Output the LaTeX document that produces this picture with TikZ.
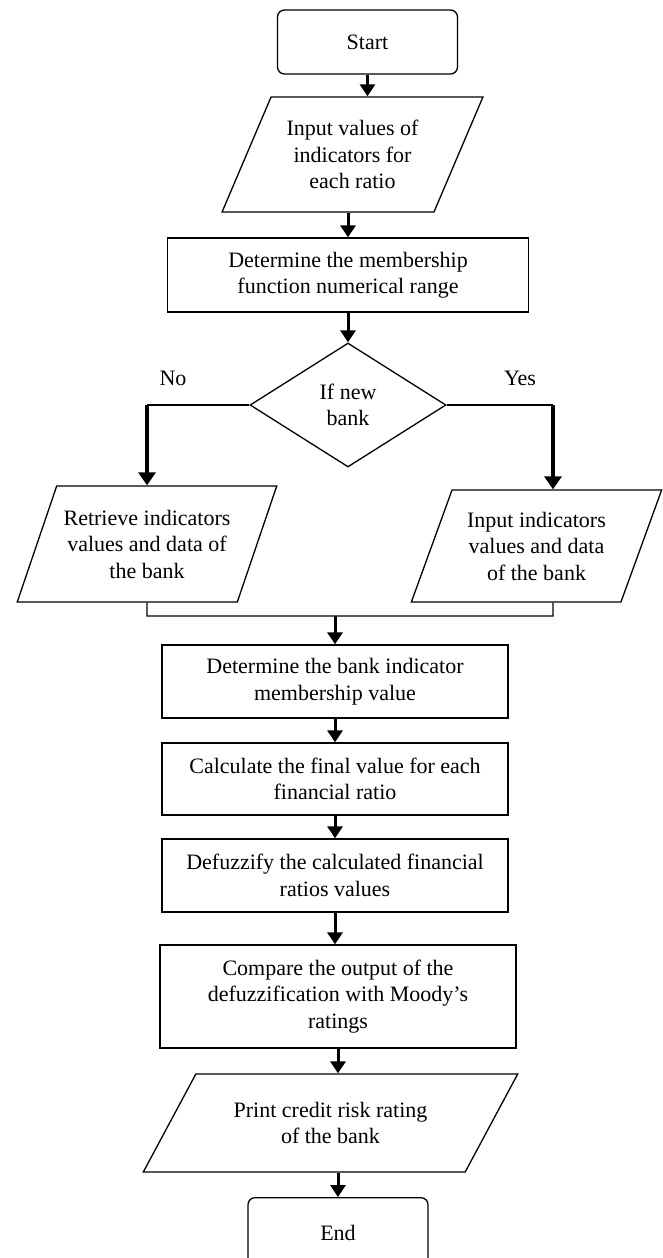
\documentclass[tikz,border=0pt]{standalone}
\usepackage{fontspec}
\setmainfont{Liberation Serif}
\usetikzlibrary{shapes.geometric,arrows.meta}
\begin{document}
\begin{tikzpicture}[x=1pt,y=-1pt,
  every node/.style={font=\fontsize{22}{26.5}\selectfont,align=center,line width=1.3pt},
  procbox/.style={draw,rectangle,inner sep=0pt},
  termbox/.style={draw,rectangle,rounded corners=7pt,minimum width=180pt,minimum height=64pt},
  iobox/.style={draw,trapezium,trapezium stretches=true,inner sep=0pt},
  decbox/.style={draw,diamond,inner sep=0pt,minimum width=196pt,minimum height=124pt},
  arr/.style={line width=3pt,-{Triangle[length=12pt,width=15pt]}},
  bigarr/.style={line width=4pt,-{Triangle[length=13pt,width=17pt]}},
  thinline/.style={line width=1.4pt}]
  \useasboundingbox (0,0) rectangle (662,1258);
  \node[termbox] (start) at (367.5,42) {Start};
  \node[iobox,trapezium left angle=60,trapezium right angle=120,minimum width=261pt,minimum height=115pt]
   (inval) at (352.5,154.5) {Input values of\\indicators for\\each ratio};
  \node[procbox,minimum width=361pt,minimum height=74pt] (range) at (348,275)
   {Determine the membership\\function numerical range};
  \node[decbox] (newbank) at (348,405) {If new\\bank};
  \node (nolbl) at (173,378) {No};
  \node (yeslbl) at (520,378) {Yes};
  \node[iobox,trapezium left angle=62,trapezium right angle=118,minimum width=260pt,minimum height=116pt]
   (retrieve) at (147,544) {Retrieve indicators\\values and data of\\the bank};
  \node[iobox,trapezium left angle=64,trapezium right angle=116,minimum width=251pt,minimum height=112pt]
   (inputnew) at (536.5,546) {Input indicators\\values and data\\of the bank};
  \node[procbox,minimum width=346pt,minimum height=73pt] (member) at (335,681.5)
   {Determine the bank indicator\\membership value};
  \node[procbox,minimum width=346pt,minimum height=72pt] (final) at (335,779)
   {Calculate the final value for each\\financial ratio};
  \node[procbox,minimum width=346pt,minimum height=73pt] (defuzz) at (335,875.5)
   {Defuzzify the calculated financial\\ratios values};
  \node[procbox,minimum width=356pt,minimum height=103pt] (compare) at (338,996.5)
   {Compare the output of the\\defuzzification with Moody's\\ratings};
  \node[iobox,trapezium left angle=48,trapezium right angle=132,minimum width=375pt,minimum height=98pt]
   (print) at (330.5,1123) {Print credit risk rating\\of the bank};
  \node[termbox,minimum height=70pt,anchor=north] (end) at (338,1197) {End};
  \coordinate (noturn) at (newbank.west -| retrieve.north);
  \coordinate (yesturn) at (553,405);
  \coordinate (joinL) at (147,616);
  \coordinate (joinR) at (553,616);
  \draw[arr] (start) -- (start |- inval.north);
  \draw[arr] (inval.south -| range.north) -- (range.north);
  \draw[arr] (range) -- (newbank);
  \draw[thinline] (newbank.west) -- (noturn);
  \draw[bigarr] (noturn) -- (retrieve.north);
  \draw[thinline] (newbank.east) -- (yesturn);
  \draw[bigarr] (yesturn) -- (yesturn |- inputnew.north);
  \draw[thinline] (retrieve.south) -- (joinL) -- (joinR) -- (joinR |- inputnew.south);
  \draw[arr] (member.north |- joinL) -- (member.north);
  \draw[arr] (member) -- (final);
  \draw[arr] (final) -- (defuzz);
  \draw[arr] (defuzz) -- (defuzz |- compare.north);
  \draw[arr] (compare) -- (compare |- print.north);
  \draw[arr] (print.south -| end.north) -- (end.north);
\end{tikzpicture}
\end{document}
